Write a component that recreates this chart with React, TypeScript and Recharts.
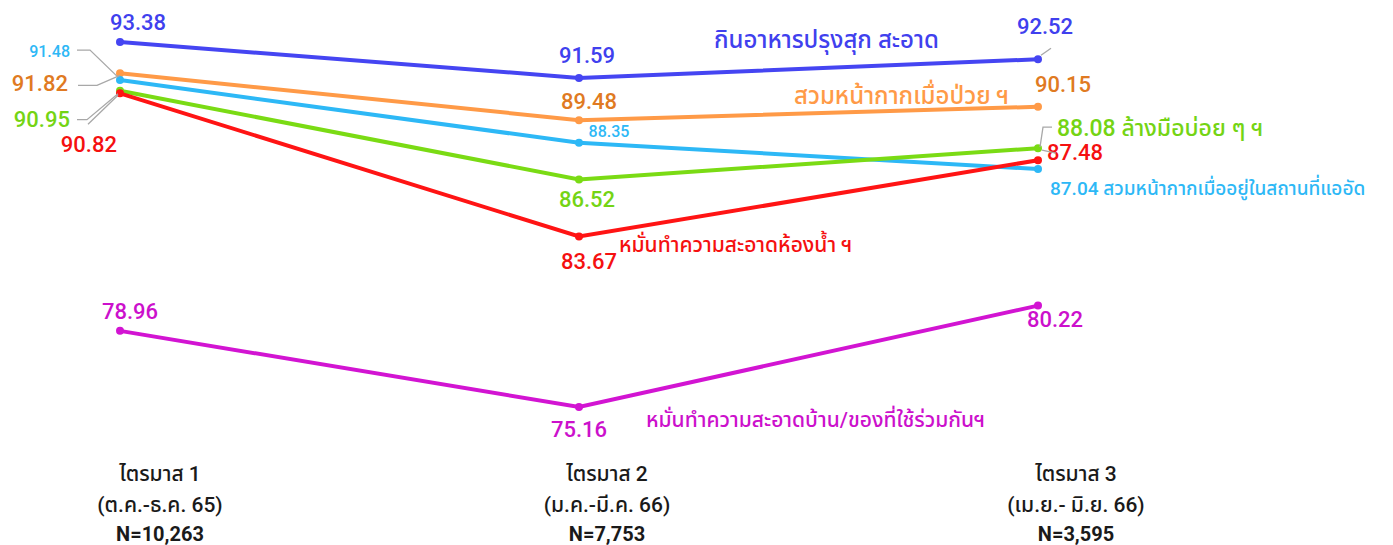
import React from 'react';
import { LineChart, Line, XAxis, YAxis, LabelList } from 'recharts';

const categories = ['Q1', 'Q2', 'Q3'];
const tickLine1 = ['ไตรมาส 1', 'ไตรมาส 2', 'ไตรมาส 3'];
const tickLine2 = ['(ต.ค.-ธ.ค. 65)', '(ม.ค.-มี.ค. 66)', '(เม.ย.-  มิ.ย. 66)'];
const tickLine3 = ['N=10,263', 'N=7,753', 'N=3,595'];

const food = [93.38, 91.59, 92.52];
const maskSick = [91.82, 89.48, 90.15];
const maskCrowd = [91.48, 88.35, 87.04];
const handwash = [90.95, 86.52, 88.08];
const toilet = [90.82, 83.67, 87.48];
const household = [78.96, 75.16, 80.22];

const nameFood = 'กินอาหารปรุงสุก สะอาด';
const nameMaskSick = 'สวมหน้ากากเมื่อป่วย ฯ';
const nameMaskCrowd = 'สวมหน้ากากเมื่ออยู่ในสถานที่แออัด';
const nameHandwash = 'ล้างมือบ่อย ๆ ฯ';
const nameToilet = 'หมั่นทำความสะอาดห้องน้ำ ฯ';
const nameHousehold = 'หมั่นทำความสะอาดบ้าน/ของที่ใช้ร่วมกันฯ';

const data = categories.map((c, i) => ({
  cat: c,
  food: food[i],
  maskSick: maskSick[i],
  maskCrowd: maskCrowd[i],
  handwash: handwash[i],
  toilet: toilet[i],
  household: household[i],
}));

const FONT = "Roboto, 'Noto Sans Thai', 'Noto Sans', sans-serif";
const LEADER = '#a8a8a8';

type LabelCfg = { dx: number; dy: number; anchor: string; size?: number; withName?: boolean };
type SeriesCfg = {
  key: string;
  name: string;
  color: string;
  labelColor: string;
  nameColor: string;
  size: number;
  labels: LabelCfg[];
  nameAt?: { index: number; dx: number; dy: number; size: number };
  leaders: { index: number; pts: number[][] }[];
};

const series: SeriesCfg[] = [
  {
    key: 'food', name: nameFood, color: '#4545F2', labelColor: '#4040EE', nameColor: '#4040EE', size: 22,
    labels: [
      { dx: 18, dy: -20, anchor: 'middle' },
      { dx: 8, dy: -22, anchor: 'middle' },
      { dx: 7, dy: -33, anchor: 'middle' },
    ],
    nameAt: { index: 1, dx: 135, dy: -38, size: 24 },
    leaders: [{ index: 2, pts: [[3, -4], [13, -11]] }],
  },
  {
    key: 'maskSick', name: nameMaskSick, color: '#FF9A47', labelColor: '#E07A22', nameColor: '#FF9A47', size: 22,
    labels: [
      { dx: -52, dy: 10, anchor: 'end' },
      { dx: 10, dy: -19, anchor: 'middle' },
      { dx: 25, dy: -22, anchor: 'middle' },
    ],
    nameAt: { index: 1, dx: 215, dy: -24, size: 24 },
    leaders: [{ index: 0, pts: [[-42, 12], [-23, 12], [0, 2]] }],
  },
  {
    key: 'maskCrowd', name: nameMaskCrowd, color: '#2DB8F6', labelColor: '#2DB8F6', nameColor: '#2DB8F6', size: 16,
    labels: [
      { dx: -50, dy: -29, anchor: 'end' },
      { dx: 30, dy: -11, anchor: 'middle' },
      { dx: 12, dy: 19, anchor: 'start', size: 19, withName: true },
    ],
    leaders: [{ index: 0, pts: [[-43, -30], [-30, -30], [-2, -3]] }],
  },
  {
    key: 'handwash', name: nameHandwash, color: '#7ADB14', labelColor: '#74D414', nameColor: '#74D414', size: 22,
    labels: [
      { dx: -50, dy: 29, anchor: 'end' },
      { dx: 8, dy: 20, anchor: 'middle' },
      { dx: 19, dy: -20, anchor: 'start', size: 23, withName: true },
    ],
    leaders: [
      { index: 0, pts: [[-43, 29], [-33, 29], [-2, 3]] },
      { index: 2, pts: [[2, -1], [5, -21], [14, -21]] },
    ],
  },
  {
    key: 'toilet', name: nameToilet, color: '#FF1414', labelColor: '#F51010', nameColor: '#F51010', size: 22,
    labels: [
      { dx: -3, dy: 51, anchor: 'end' },
      { dx: 10, dy: 25, anchor: 'middle' },
      { dx: 37, dy: -8, anchor: 'middle' },
    ],
    nameAt: { index: 1, dx: 40, dy: 8, size: 21 },
    leaders: [
      { index: 0, pts: [[-32, 31], [-2, 2]] },
      { index: 2, pts: [[4, -10], [18, -7]] },
    ],
  },
  {
    key: 'household', name: nameHousehold, color: '#D214D2', labelColor: '#CC10CC', nameColor: '#CC10CC', size: 22,
    labels: [
      { dx: 10, dy: -19, anchor: 'middle' },
      { dx: 0, dy: 23, anchor: 'middle' },
      { dx: 17, dy: 14, anchor: 'middle' },
    ],
    nameAt: { index: 1, dx: 67, dy: 13, size: 21 },
    leaders: [],
  },
];

const makeLabel = (cfg: SeriesCfg) => (props: any) => {
  const { x, y, value, index } = props;
  if (x == null || y == null) return null;
  const l = cfg.labels[index];
  const out: React.ReactNode[] = [];
  const txt = l.withName ? `${value.toFixed(2)} ${cfg.name}` : value.toFixed(2);
  out.push(
    <text key="v" x={x + l.dx} y={y + l.dy} textAnchor={l.anchor as any} dominantBaseline="central"
      fill={cfg.labelColor} fontSize={l.size ?? cfg.size} fontWeight={500} fontFamily={FONT}>{txt}</text>
  );
  if (cfg.nameAt && cfg.nameAt.index === index) {
    out.push(
      <text key="n" x={x + cfg.nameAt.dx} y={y + cfg.nameAt.dy} textAnchor="start" dominantBaseline="central"
        fill={cfg.nameColor} fontSize={cfg.nameAt.size} fontWeight={500} fontFamily={FONT}>{cfg.name}</text>
    );
  }
  cfg.leaders.filter((ld) => ld.index === index).forEach((ld, k) => {
    out.push(
      <polyline key={'l' + k} points={ld.pts.map((p) => `${x + p[0]},${y + p[1]}`).join(' ')}
        fill="none" stroke={LEADER} strokeWidth={1.3} />
    );
  });
  return <g>{out}</g>;
};

const tickDx = [40, 28, 38];

const Tick = (props: any) => {
  const { x, y, index } = props;
  const cx = x + tickDx[index];
  return (
    <g>
      <text x={cx} y={y + 36} textAnchor="middle" dominantBaseline="central" fill="#1a1a1a" fontSize={21} fontWeight={500} fontFamily={FONT}>{tickLine1[index]}</text>
      <text x={cx} y={y + 67} textAnchor="middle" dominantBaseline="central" fill="#1a1a1a" fontSize={21} fontWeight={500} fontFamily={FONT}>{tickLine2[index]}</text>
      <text x={cx} y={y + 96} textAnchor="middle" dominantBaseline="central" fill="#1a1a1a" fontSize={20} fontWeight="bold" fontFamily={FONT}>{tickLine3[index]}</text>
    </g>
  );
};

export default function App() {
  return (
    <div style={{ width: 1377, height: 537, background: '#fff' }}>
      <LineChart width={1377} height={537} data={data} margin={{ top: 1.6, right: 347, bottom: 4.8, left: 112 }}>
        <XAxis dataKey="cat" axisLine={false} tickLine={false} height={110} tick={<Tick />} interval={0} />
        <YAxis hide domain={[74, 95]} type="number" />
        {series.map((s) => (
          <Line key={s.key} dataKey={s.key} stroke={s.color} strokeWidth={4} type="linear"
            dot={{ r: 4, fill: s.color, stroke: s.color, strokeWidth: 0 }} activeDot={false} isAnimationActive={false}>
            <LabelList dataKey={s.key} content={makeLabel(s)} />
          </Line>
        ))}
      </LineChart>
    </div>
  );
}
